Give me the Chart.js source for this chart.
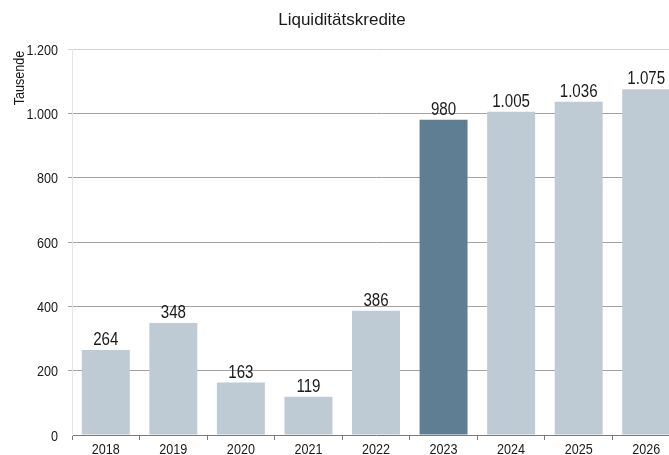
<!DOCTYPE html>
<html>
<head>
<meta charset="utf-8">
<script src="https://cdn.jsdelivr.net/npm/chart.js@4"></script>
<style>
html,body{margin:0;padding:0;background:#fff;overflow:hidden;}
#wrap{position:absolute;left:0;top:0;width:680px;height:455px;}
</style>
</head>
<body>
<div id="wrap"><canvas id="c" width="680" height="455"></canvas></div>
<script>
const chartTitle = 'Liquiditätskredite';
const axisTitle = 'Tausende';
const categories = ['2018','2019','2020','2021','2022','2023','2024','2025','2026'];
const values = [264, 348, 163, 119, 386, 980, 1005, 1036, 1075];
const highlightCategory = '2023';
const yTicks = [0, 200, 400, 600, 800, 1000, 1200];

const FONT = '"Liberation Sans", Arial, sans-serif';
const SQUEEZE = 0.84;
const TEXT = '#1a1a1a';

function fmt(v){
  const s = String(Math.round(v));
  return s.replace(/\B(?=(\d{3})+(?!\d))/g, '.');
}

function narrowText(ctx, txt, x, y, size, align){
  ctx.save();
  ctx.translate(x, y);
  ctx.scale(SQUEEZE, 1);
  ctx.font = size + 'px ' + FONT;
  ctx.textAlign = align;
  ctx.textBaseline = 'alphabetic';
  ctx.fillStyle = TEXT;
  ctx.fillText(txt, 0, 0);
  ctx.restore();
}

const overlay = {
  id: 'overlay',
  afterDatasetsDraw(chart){
    const ctx = chart.ctx;
    const meta = chart.getDatasetMeta(0);
    meta.data.forEach((bar, i) => {
      narrowText(ctx, fmt(values[i]), bar.x, bar.y - 5, 18, 'center');
    });
  },
  afterDraw(chart){
    const ctx = chart.ctx;
    const xs = chart.scales.x, ys = chart.scales.y;
    // y tick labels
    yTicks.forEach(v => {
      narrowText(ctx, fmt(v), 58, ys.getPixelForValue(v) + 5.5, 15, 'right');
    });
    // x tick labels
    categories.forEach((c, i) => {
      narrowText(ctx, c, xs.getPixelForValue(i), 454, 15, 'center');
    });
    // title
    ctx.save();
    ctx.fillStyle = TEXT;
    ctx.font = '17px ' + FONT;
    ctx.textAlign = 'center';
    ctx.textBaseline = 'alphabetic';
    ctx.fillText(chartTitle, 342, 25);
    ctx.restore();
    // axis title
    ctx.save();
    ctx.translate(24, 78);
    ctx.rotate(-Math.PI/2);
    narrowText(ctx, axisTitle, 0, 0, 15, 'center');
    ctx.restore();
  }
};

new Chart(document.getElementById('c'), {
  type: 'bar',
  data: {
    labels: categories,
    datasets: [{
      data: values,
      backgroundColor: categories.map(c => c === highlightCategory ? '#5f7e93' : '#bfcbd4'),
      borderWidth: 0,
      barPercentage: 0.71,
      categoryPercentage: 1.0
    }]
  },
  options: {
    responsive: false,
    animation: false,
    devicePixelRatio: 1,
    layout: { padding: { top: 49, left: 0, right: 0, bottom: 0 } },
    plugins: { legend: { display: false }, title: { display: false }, tooltip: { enabled: false } },
    scales: {
      x: {
        afterFit(s){ s.height = 20; },
        grid: { drawOnChartArea: false, drawTicks: true, tickLength: 5, color: '#7a7a7a', offset: true },
        border: { display: true, color: '#7a7a7a', width: 1 },
        ticks: { display: false, autoSkip: false, maxRotation: 0 }
      },
      y: {
        min: 0, max: 1200,
        afterFit(s){ s.width = 72; },
        afterBuildTicks(s){ s.ticks = yTicks.map(v => ({ value: v })); },
        grid: {
          drawTicks: true, tickLength: 4,
          color: c => c.tick && c.tick.value === 1200 ? '#d2d2d2' : (c.tick && c.tick.value === 0 ? 'rgba(0,0,0,0)' : '#a3a3a3'),
          lineWidth: 1
        },
        border: { display: true, color: '#e6e6e6', width: 1 },
        ticks: { display: false }
      }
    }
  },
  plugins: [overlay]
});
</script>
</body>
</html>
